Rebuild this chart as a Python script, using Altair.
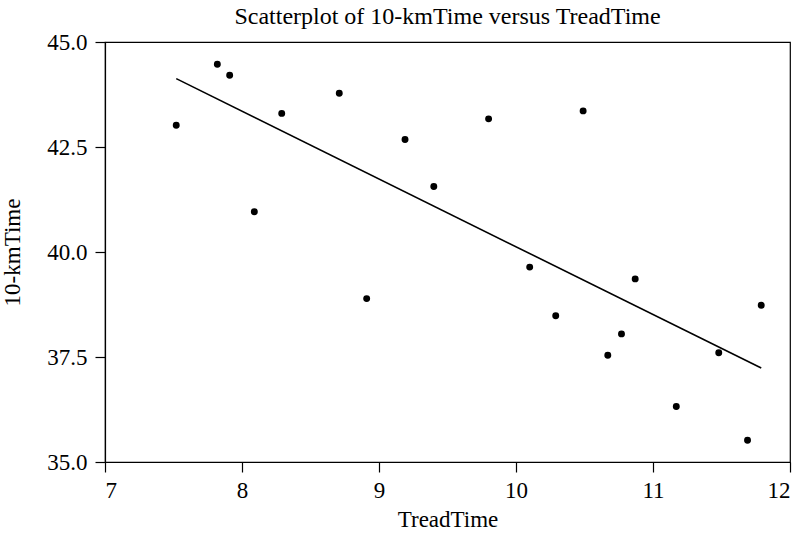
import altair as alt
import pandas as pd

tread_time = [7.52, 7.82, 7.91, 8.09, 8.29, 8.71, 8.91, 9.19, 9.40, 9.80,
              10.10, 10.29, 10.49, 10.67, 10.77, 10.87, 11.17, 11.48, 11.69, 11.79]
km_time = [43.02, 44.47, 44.21, 40.96, 43.30, 43.78, 38.89, 42.68, 41.56, 43.17,
           39.64, 38.48, 43.36, 37.54, 38.05, 39.36, 36.32, 37.60, 35.52, 38.73]
x_ticks = [7, 8, 9, 10, 11, 12]
y_ticks = [35.0, 37.5, 40.0, 42.5, 45.0]

df = pd.DataFrame({"TreadTime": tread_time, "KmTime": km_time})

FONT = "Liberation Serif"

x_enc = alt.X("TreadTime:Q",
              scale=alt.Scale(domain=[7, 12], nice=False, zero=False),
              axis=alt.Axis(title="TreadTime", values=x_ticks, format="d",
                            labelPadding=7, titlePadding=6))
y_enc = alt.Y("KmTime:Q",
              scale=alt.Scale(domain=[35, 45], nice=False, zero=False),
              axis=alt.Axis(title="10-kmTime", values=y_ticks, format=".1f",
                            labelPadding=8, titlePadding=22))

base = alt.Chart(df)

points = base.mark_circle(color="black", opacity=1, size=48).encode(x=x_enc, y=y_enc)

line = base.transform_regression("TreadTime", "KmTime").mark_line(
    color="black", strokeWidth=1.6).encode(x=x_enc, y=y_enc)

chart = alt.layer(line, points).properties(
    width=685,
    height=420,
    autosize=alt.AutoSizeParams(type="none"),
    padding={"left": 105, "top": 42, "right": 11, "bottom": 74},
    title=alt.TitleParams(
        text="Scatterplot of 10-kmTime versus TreadTime",
        font=FONT, fontSize=24, fontWeight="normal", color="black",
        anchor="middle", frame="group", offset=2),
    background="white",
).configure_view(
    stroke="black", strokeWidth=1.2
).configure_axis(
    labelFont=FONT, titleFont=FONT, labelFontSize=23, titleFontSize=23,
    labelColor="black", titleColor="black", titleFontWeight="normal",
    domainColor="black", tickColor="black", tickSize=10, grid=False,
    domainWidth=1.2, tickWidth=1.2
)

chart.save("out.html", embed_options={"renderer": "svg", "actions": False})
